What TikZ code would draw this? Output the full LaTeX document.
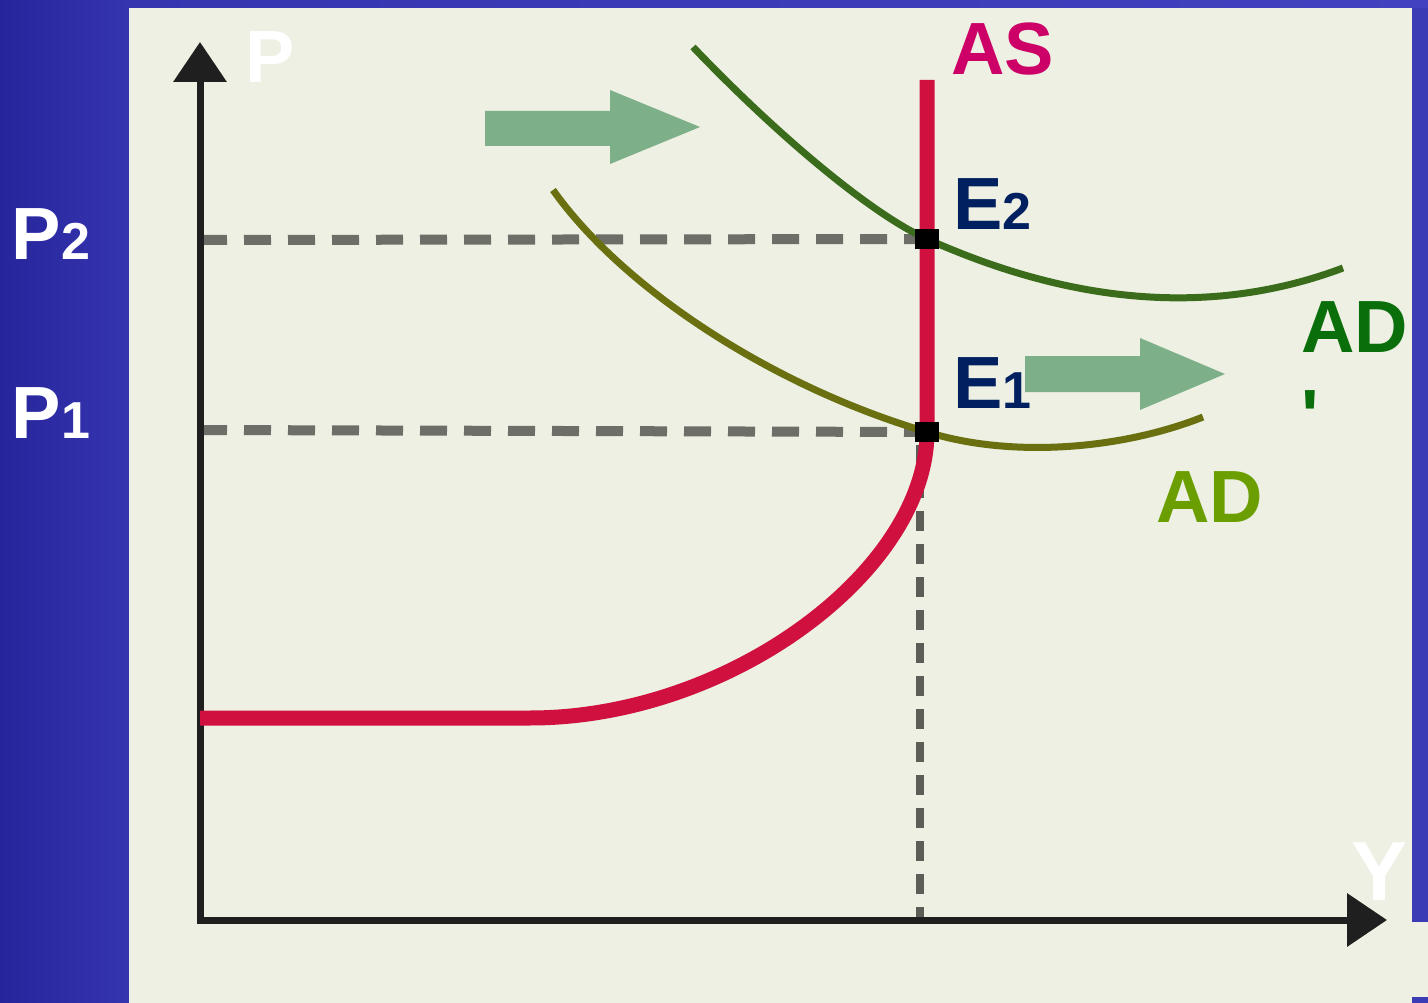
\documentclass[tikz,border=0pt]{standalone}
\usepackage{fontspec}
\setmainfont{Liberation Sans}[Ligatures=TeXOff]
\usetikzlibrary{arrows.meta}
\definecolor{bgL}{HTML}{27259B}
\definecolor{bgM}{HTML}{3535B0}
\definecolor{bgR}{HTML}{3B3BB6}
\definecolor{bgT}{HTML}{4242C0}
\definecolor{panel}{HTML}{EDF0E3}
\definecolor{asred}{HTML}{D0103F}
\definecolor{asmag}{HTML}{CC0066}
\definecolor{adolive}{HTML}{6A7010}
\definecolor{adpgreen}{HTML}{3A6C1C}
\definecolor{adlab}{HTML}{6B9E00}
\definecolor{adplab}{HTML}{0A6E0A}
\definecolor{arrowgreen}{HTML}{7DB088}
\definecolor{enavy}{HTML}{002060}
\definecolor{dashgray}{HTML}{6E6E68}
\tikzset{
  lbl/.style={font=\fontsize{74}{89}\selectfont\bfseries, inner sep=0pt, outer sep=0pt},
  axisline/.style={line width=7pt, draw=black!88, -{Triangle[length=40pt,width=52pt]}},
  pdash/.style={line width=10pt, draw=dashgray, dash pattern=on 27pt off 17pt},
  vdash/.style={line width=8pt, draw=dashgray!85!black, dash pattern=on 20pt off 13pt},
  ascurve/.style={line width=15pt, draw=asred},
  adcurve/.style={line width=7pt, draw=adolive},
  adpcurve/.style={line width=7pt, draw=adpgreen},
  shiftarrow/.style={fill=arrowgreen, draw=none},
  epoint/.style={fill=black, draw=none, minimum width=24pt, minimum height=20pt, inner sep=0pt},
}
\newcommand{\sbs}[1]{{\fontsize{52}{56}\selectfont #1}}
\begin{document}
\begin{tikzpicture}[x=1pt,y=-1pt]
\useasboundingbox (0,0) rectangle (1428,1003);
% background
\fill[bgR] (0,0) rectangle (1428,1003);
\shade[left color=bgL, right color=bgM] (0,0) rectangle (129,1003);
\shade[left color=bgM, right color=bgT] (129,0) rectangle (1428,8);
\fill[panel] (129,8) rectangle (1412,1003);
\fill[panel] (1412,922) rectangle (1428,997);

% coordinates
\coordinate (O) at (200,920);
\coordinate (Ytop) at (200,42);
\coordinate (Xstart) at (197,920);
\coordinate (Xend) at (1387,920);
\coordinate (P2a) at (200,240);
\coordinate (P1a) at (200,430);
\coordinate (E2c) at (927,239);
\coordinate (E1c) at (927,432);
\coordinate (Vtop) at (920,445);
\coordinate (Vbot) at (920,920);
\coordinate (ASstart) at (200,718);
\coordinate (ASbend) at (530,718);
\coordinate (AStop) at (927,80);
\coordinate (ADs) at (553,190);
\coordinate (ADe) at (1203,417);
\coordinate (ADps) at (693,47);
\coordinate (ADpe) at (1343,268);

% dashed guides
\draw[pdash] (P2a) -- (E2c);
\draw[pdash] (P1a) -- (E1c);
\draw[vdash] (Vtop) -- (Vbot);

% axes
\draw[axisline] (O) -- (Ytop);
\draw[axisline] (Xstart) -- (Xend);

% AS curve
\draw[ascurve] (ASstart) -- (ASbend) .. controls (730,718) and (927,570) .. (E1c) -- (AStop);

% AD curve
\draw[adcurve] (ADs) .. controls (624,290) and (774,387) .. (E1c)
  .. controls (1010,458) and (1120,450) .. (ADe);
% AD' curve
\draw[adpcurve] (ADps) .. controls (780,138) and (873,215) .. (E2c)
  .. controls (1070,303) and (1210,318) .. (ADpe);

% equilibrium points
\node[epoint] (E2) at (E2c) {};
\node[epoint] (E1) at (E1c) {};

% shift arrows
\fill[shiftarrow] (485,111) -- (610,111) -- (610,90) -- (700,127) -- (610,164) -- (610,146) -- (485,146) -- cycle;
\fill[shiftarrow] (1025,356) -- (1140,356) -- (1140,338) -- (1225,374) -- (1140,410) -- (1140,392) -- (1025,392) -- cycle;

% labels
\node[lbl, text=white, anchor=base west] (Plab) at (245,83) {P};
\node[lbl, text=white, anchor=base west] (P2lab) at (12,260) {P\sbs{2}};
\node[lbl, text=white, anchor=base west] (P1lab) at (12,438) {P\sbs{1}};
\node[lbl, text=asmag, anchor=base west] (ASlab) at (951,75) {AS};
\node[lbl, text=enavy, anchor=base west] (E2lab) at (953,230) {E\sbs{2}};
\node[lbl, text=enavy, anchor=base west] (E1lab) at (953,408) {E\sbs{1}};
\node[lbl, text=adlab, anchor=base west] (ADlab) at (1156,522) {AD};
\node[lbl, text=adplab, anchor=north west, align=left] (ADplab) at (1301,302) {AD\\'};
\node[lbl, text=white, anchor=base west, font=\fontsize{84}{90}\selectfont\bfseries] (Ylab) at (1351,900) {Y};
\end{tikzpicture}
\end{document}
